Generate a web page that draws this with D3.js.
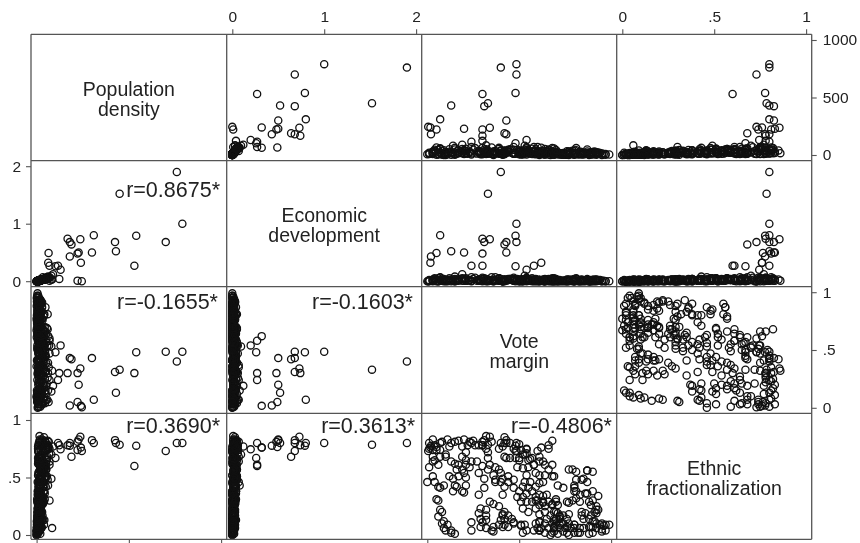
<!DOCTYPE html>
<html>
<head>
<meta charset="utf-8">
<script src="https://cdnjs.cloudflare.com/ajax/libs/d3/7.8.5/d3.min.js"></script>
<style>
body { margin: 0; background: #fff; }
svg { display: block; font-family: "Liberation Sans", Arial, sans-serif; filter: blur(.4px); }
</style>
</head>
<body>
<svg id="matrix" width="860" height="543"></svg>
<script>
// population density, first the countries away from the main band
const pop = [760,790,450,530,540,237,310,180,180,189,425,700,430,300,228,222,65,240,222,245,63,130,102,116,70,89,123,80,168,
  12,30,8,45,22,52,36,18,28,48,16,25,58,14,33,9,20,44,11,
  6,24,35,10,42,18,50,80,62,15,38,20,9,22,4,14,7,18,3,
  20,45,10,60,34,16,55,26,8,40,18,70,12,32,52,22,42,28,
  30,48,14,24,38,62,16,50,10,66,26,
  14,40,22,52,8,34,34,18,46,28,12,36,6,22,30,10,
  40,15,62,8,50,28,70,18,44,10,35,58,24,68,12,46,20,34,54,9,30,48,16,60,26,38,14,52,22,42,10,32,56,18,
  28,12,40,20,6,34,16,50,10,30,22,44,8,36,14,26,18,4,32,70,24,40,10,20,6,28,15,34,8,22,18,38,12,48,26,60,16,30,20,42,10,24,14,32,6,18,28,10,22,8,16,12,
  10,22,6,16,30,8,18,4,26,12,7,20,3,14,9,16,5,24,11,2,18,6,13,4,8,20,3,10,
  14,6,22,10,30,4,16,8,12,3,5,18,7,11,2,9,1,13,4,6,
  18,8,26,12,36,6,14,4,20,84,10,28,16,22,8,32,12,42,18,6,24,10,40,14,5,16,8,26,11,
  3,8,14,1,6,18,10,24,0,4,12,2,7,20,3,28,9,5,16,11,0,6,2,13,1,8,22,4,15,5,
  30,12,22,8,40,16,26,6,34,14,44,20,10,28,18,36,24,8,46,14,
  2,0,5,1,7,3,9,12,16,0,4,10,2,18,6]

const econ = [1.90,1.00,1.52,.27,.79,.73,.80,.43,.68,.64,.68,.68,.52,.50,.50,.48,.49,.32,.01,.00,.32,.20,.26,.27,.27,.12,.04,.095,.74,
  .01,.03,.00,.05,.02,.06,.03,.01,.02,.04,.01,.02,.07,.01,.03,.00,.02,.05,.01,
  .00,.02,.03,.01,.04,.02,.05,.03,.08,.01,.04,.02,.00,.02,.00,.01,.00,.02,.00,
  .02,.04,.01,.06,.03,.01,.05,.02,.00,.03,.01,.07,.01,.03,.05,.02,.04,.02,
  .03,.05,.01,.02,.03,.06,.01,.04,.00,.07,.02,
  .01,.03,.02,.05,.00,.03,.07,.01,.04,.02,.01,.03,.00,.02,.03,.01,
  .03,.01,.05,.00,.04,.02,.06,.01,.04,.00,.03,.05,.02,.06,.01,.04,.02,.03,.05,.00,.02,.04,.01,.05,.02,.03,.01,.04,.02,.03,.00,.03,.05,.01,
  .02,.01,.03,.02,.00,.03,.01,.04,.00,.02,.02,.04,.00,.03,.01,.02,.01,.00,.03,.01,.02,.03,.00,.02,.00,.02,.01,.03,.00,.02,.01,.03,.01,.04,.02,.05,.01,.02,.02,.04,.00,.02,.01,.03,.00,.01,.02,.00,.02,.00,.01,.01,
  .01,.02,.00,.01,.03,.00,.02,.00,.02,.01,.00,.02,.00,.01,.00,.01,.00,.02,.01,.00,.02,.00,.01,.00,.00,.02,.00,.01,
  .01,.00,.02,.01,.03,.00,.01,.00,.01,.00,.00,.02,.00,.01,.00,.00,.00,.01,.00,.00,
  .01,.00,.02,.01,.03,.00,.01,.00,.02,.03,.01,.02,.01,.02,.00,.03,.01,.04,.02,.00,.02,.01,.03,.01,.00,.01,.00,.02,.01,
  .00,.01,.02,.00,.00,.02,.01,.03,.00,.00,.01,.00,.01,.02,.00,.03,.01,.00,.02,.01,.00,.01,.00,.01,.00,.01,.02,.00,.01,.00,
  .03,.01,.02,.00,.04,.01,.03,.00,.03,.01,.04,.02,.01,.02,.01,.03,.02,.00,.04,.01,
  .00,.00,.01,.00,.01,.00,.01,.01,.02,.00,.00,.01,.00,.02,.01]

const vote = [.40,.485,.33,.30,.48,.34,.07,.02,.43,.42,.31,.485,.13,.43,.20,.30,.05,.017,.05,.005,.62,.54,.48,.24,.58,.19,.30,.53,.30,
  .01,.03,.01,.04,.03,.07,.08,.11,.12,.15,.17,.10,.07,.03,.04,.03,.01,.06,.10,
  .00,.03,.04,.06,.09,.07,.12,.14,.15,.14,.19,.21,.06,.07,.06,.09,.11,.13,.13,
  .23,.25,.22,.26,.21,.19,.21,.13,.15,.17,.21,.24,.27,.16,.19,.17,.20,.23,
  .28,.31,.31,.28,.28,.30,.32,.32,.33,.35,.33,
  .34,.33,.37,.39,.36,.40,.37,.41,.44,.44,.40,.42,.41,.34,.36,.39,
  .42,.42,.39,.41,.45,.50,.47,.43,.45,.48,.51,.54,.52,.54,.50,.49,.52,.55,.57,.60,.61,.66,.66,.68,.58,.55,.61,.64,.68,.66,.64,.68,.69,.63,
  .54,.56,.53,.47,.50,.52,.55,.59,.61,.49,.52,.54,.57,.59,.61,.65,.51,.54,.57,.60,.63,.66,.52,.55,.59,.61,.64,.68,.70,.71,.74,.79,.81,.87,.90,.81,.85,.87,.80,.81,.83,.90,.87,.76,.79,.81,.83,.88,.89,.71,.68,.72,
  .70,.67,.71,.74,.65,.69,.72,.76,.61,.64,.68,.70,.74,.77,.80,.62,.66,.69,.72,.75,.78,.80,.61,.64,.68,.71,.76,.80,
  .86,.89,.92,.93,.91,.85,.88,.91,.95,.97,.99,.94,.88,.90,.92,.97,.95,.85,.90,.83,
  .28,.32,.32,.29,.32,.30,.24,.24,.29,.32,.35,.36,.39,.42,.41,.44,.42,.40,.46,.42,.44,.47,.51,.53,.52,.54,.58,.60,.59,
  .95,.96,.92,.88,.89,.90,.92,.92,.77,.82,.83,.80,.74,.76,.73,.70,.77,.84,.84,.69,.67,.69,.69,.69,.61,.61,.61,.64,.72,.72,
  .77,.90,.93,.86,.80,.80,.84,.63,.59,.63,.70,.61,.59,.77,.87,.63,.56,.50,.47,.37,
  .15,.10,.08,.09,.08,.05,.20,.16,.21,.36,.51,.47,.41,.41,.29]

const eth = [.80,.80,.785,.60,.777,.855,.80,.777,.80,.68,.825,.73,.80,.825,.83,.81,.765,.76,.74,.73,.76,.745,.67,.80,.61,.77,.78,.70,.78,
  .80,.83,.75,.78,.74,.74,.81,.83,.77,.81,.82,.70,.68,.68,.65,.64,.59,.61,.68,
  .46,.51,.46,.42,.43,.41,.51,.49,.43,.38,.38,.43,.30,.22,.16,.06,.09,.04,.02,
  .81,.82,.78,.78,.72,.68,.65,.64,.62,.61,.61,.64,.64,.57,.57,.51,.54,.59,
  .54,.49,.41,.35,.78,.78,.86,.75,.72,.81,.67,
  .61,.57,.59,.57,.52,.54,.46,.49,.51,.46,.46,.42,.35,.29,.27,.25,
  .85,.80,.75,.77,.80,.79,.75,.67,.67,.73,.74,.75,.70,.71,.65,.59,.58,.65,.67,.73,.68,.75,.78,.82,.61,.59,.64,.61,.61,.57,.52,.51,.51,.46,
  .52,.46,.46,.41,.38,.42,.41,.42,.45,.33,.33,.36,.38,.33,.35,.35,.29,.29,.29,.30,.29,.29,.23,.20,.23,.26,.25,.27,.29,.43,.41,.57,.55,.56,.55,.48,.49,.46,.41,.38,.35,.38,.36,.29,.30,.32,.29,.29,.26,.26,.26,.17,
  .20,.17,.19,.17,.14,.14,.14,.14,.12,.10,.10,.10,.10,.10,.09,.06,.06,.06,.06,.06,.06,.06,.04,.02,.02,.01,.02,.02,
  .19,.17,.25,.22,.20,.14,.14,.12,.10,.09,.09,.09,.07,.07,.06,.04,.03,.06,.02,.02,
  .19,.22,.17,.14,.13,.11,.11,.04,.07,.06,.04,.07,.09,.20,.17,.17,.14,.13,.14,.09,.07,.10,.09,.09,.02,.04,.04,.06,.10,
  .05,.08,.10,.01,.07,.12,.19,.22,.00,.02,.06,.09,.03,.07,.10,.14,.18,.17,.20,.20,.00,.03,.07,.12,.04,.11,.18,.20,.16,.09,
  .28,.30,.34,.36,.38,.43,.48,.28,.30,.34,.31,.52,.54,.57,.56,.64,.66,.67,.48,.48,
  .01,.04,.10,.12,.20,.31,.37,.42,.50,.03,.08,.11,.07,.18,.23]

const variables = [
  {values: pop, domain: [0, 1000], label: ['Population', 'density'], ticks: [0, 500, 1000], baselines: [96, 116]},
  {values: econ, domain: [0, 2], label: ['Economic', 'development'], ticks: [0, 1, 2], baselines: [222, 242]},
  {values: vote, domain: [0, 1], label: ['Vote', 'margin'], ticks: [0, .5, 1], baselines: [348, 368]},
  {values: eth, domain: [0, 1], label: ['Ethnic', 'fractionalization'], ticks: [0, .5, 1], baselines: [474.5, 494.5]}
]

const correlations = [
  {row: 1, col: 0, text: 'r=0.8675*', y: 197, x: 220},
  {row: 2, col: 0, text: 'r=-0.1655*', y: 309, x: 218},
  {row: 2, col: 1, text: 'r=-0.1603*', y: 309, x: 413},
  {row: 3, col: 0, text: 'r=0.3690*', y: 433, x: 220},
  {row: 3, col: 1, text: 'r=0.3613*', y: 433, x: 415},
  {row: 3, col: 2, text: 'r=-0.4806*', y: 433, x: 612}
]

const xEdges = [31, 226.7, 421.7, 616.7, 811.7]
const yEdges = [34.3, 160.7, 286.7, 413.3, 539.3]
const yPads = [[5.7, 5.7], [5.5, 5.5], [5.5, 5.5], [6.7, 4.3]]
const pad = 5.6
const lineColor = '#555'
const textColor = '#222'

const svgitem = d3.select('#matrix')

const xScales = variables.map((v, i) => d3.scaleLinear()
  .domain(v.domain)
  .range([xEdges[i] + pad, xEdges[i + 1] - pad]))

const yScales = variables.map((v, i) => d3.scaleLinear()
  .domain(v.domain)
  .range([yEdges[i + 1] - yPads[i][1], yEdges[i] + yPads[i][0]]))

const tickText = d => d == .5 ? '.5' : String(d)

// panels and circles
variables.forEach((rowVar, row) => {
  variables.forEach((colVar, col) => {
    if (row == col) return
    svgitem.append('g')
      .selectAll('circle')
      .data(d3.range(vote.length))
      .enter()
      .append('circle')
      .attr('cx', i => xScales[col](colVar.values[i]))
      .attr('cy', i => yScales[row](rowVar.values[i]))
      .attr('r', 3.6)
      .style('fill', 'none')
      .style('stroke', '#111')
      .style('stroke-width', 1.3)
  })
})

svgitem.append('g')
  .selectAll('line')
  .data(xEdges)
  .enter()
  .append('line')
  .attr('x1', d => d).attr('x2', d => d)
  .attr('y1', yEdges[0]).attr('y2', yEdges[4])
  .style('stroke', lineColor)
  .style('stroke-width', 1.3)

svgitem.append('g')
  .selectAll('line')
  .data(yEdges)
  .enter()
  .append('line')
  .attr('x1', xEdges[0]).attr('x2', xEdges[4])
  .attr('y1', d => d).attr('y2', d => d)
  .style('stroke', lineColor)
  .style('stroke-width', 1.3)

// axes
const styleAxis = (g) => {
  g.select('.domain').remove()
  g.selectAll('line').style('stroke', lineColor).style('stroke-width', 1.1)
  g.selectAll('text').style('font-size', '15.5px').style('fill', textColor)
    .style('font-family', '"Liberation Sans", Arial, sans-serif')
}

;[1, 3].forEach(i => {
  svgitem.append('g')
    .attr('transform', `translate(0,${yEdges[0]})`)
    .call(d3.axisTop(xScales[i]).tickValues(variables[i].ticks).tickFormat(tickText).tickSize(5).tickPadding(7))
    .call(styleAxis)
})

;[0, 2].forEach(i => {
  svgitem.append('g')
    .attr('transform', `translate(0,${yEdges[4]})`)
    .call(d3.axisBottom(xScales[i]).tickValues(variables[i].ticks).tickFormat('').tickSize(5))
    .call(styleAxis)
})

;[1, 3].forEach(i => {
  svgitem.append('g')
    .attr('transform', `translate(${xEdges[0]},0)`)
    .call(d3.axisLeft(yScales[i]).tickValues(variables[i].ticks).tickFormat(tickText).tickSize(5).tickPadding(5))
    .call(styleAxis)
})

;[0, 2].forEach(i => {
  svgitem.append('g')
    .attr('transform', `translate(${xEdges[4]},0)`)
    .call(d3.axisRight(yScales[i]).tickValues(variables[i].ticks).tickFormat(tickText).tickSize(5).tickPadding(6))
    .call(styleAxis)
})

// variable names on the diagonal
variables.forEach((v, i) => {
  v.label.forEach((line, k) => {
    svgitem.append('text')
      .attr('text-anchor', 'middle')
      .attr('x', (xEdges[i] + xEdges[i + 1]) / 2)
      .attr('y', v.baselines[k])
      .style('font-size', '19.5px')
      .style('fill', textColor)
      .text(line)
  })
})

// correlations in the lower triangle
svgitem.append('g')
  .selectAll('text')
  .data(correlations)
  .enter()
  .append('text')
  .attr('text-anchor', 'end')
  .attr('x', d => d.x)
  .attr('y', d => d.y)
  .style('font-size', '21.5px')
  .style('fill', textColor)
  .text(d => d.text)
</script>
</body>
</html>
